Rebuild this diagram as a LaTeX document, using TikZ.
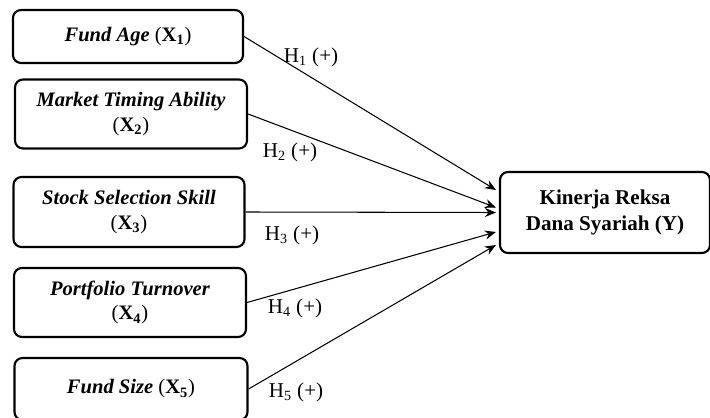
\documentclass[tikz,border=0pt]{standalone}
\usepackage{fontspec}
\setmainfont{Liberation Serif}
\usetikzlibrary{arrows.meta}

\begin{document}
\begin{tikzpicture}[x=0.2mm,y=-0.2mm,
    varbox/.style={draw, very thick, rounded corners=1.6mm, align=center,
                   font=\fontsize{11.7}{14}\selectfont, inner sep=0pt},
    hyp/.style={font=\fontsize{12}{14}\selectfont, inner sep=0pt},
    link/.style={semithick, -{Stealth[length=2.2mm,width=1.8mm]}}]
     \useasboundingbox (0,0) rectangle (710,418);
     % independent variables, left column
     \node[varbox, minimum width=46mm, minimum height=10.6mm] (age) at (128,36.5)
          {\textbf{\textit{Fund Age}} (\textbf{X\textsubscript{1}})};
     \node[varbox, minimum width=46.4mm, minimum height=13.8mm] (timing) at (131,114)
          {\textbf{\textit{Market Timing Ability}}\\(\textbf{X\textsubscript{2}})};
     \node[varbox, minimum width=46.2mm, minimum height=14mm] (skill) at (129,212)
          {\textbf{\textit{Stock Selection Skill}}\\(\textbf{X\textsubscript{3}})};
     \node[varbox, minimum width=46.4mm, minimum height=13.8mm] (turnover) at (130,302.5)
          {\textbf{\textit{Portfolio Turnover}}\\(\textbf{X\textsubscript{4}})};
     \node[varbox, minimum width=46.6mm, minimum height=12.4mm] (size) at (131,389)
          {\textbf{\textit{Fund Size}} (\textbf{X\textsubscript{5}})};
     % dependent variable
     \node[varbox, minimum width=42mm, minimum height=16.2mm,
           font=\fontsize{12}{14.5}\selectfont\bfseries] (kinerja) at (605,212.5)
          {Kinerja Reksa\\Dana Syariah (Y)};
     % hypotheses, all arrows end just left of the Y box
     \draw[link] (age.east) -- ([xshift=-0.6mm,yshift=4.5mm]kinerja.west);
     \draw[link] (timing.east) -- ([xshift=-0.6mm,yshift=1mm]kinerja.west);
     \draw[link] (skill.east) -- ([xshift=-0.6mm]kinerja.west);
     \draw[link] (turnover.east) -- ([xshift=-0.6mm,yshift=-3.9mm]kinerja.west);
     \draw[link] (size.east) -- ([xshift=-0.6mm,yshift=-6.5mm]kinerja.west);
     \node[hyp] (h1) at (311,57) {H\textsubscript{1} (+)};
     \node[hyp] (h2) at (290,152) {H\textsubscript{2} (+)};
     \node[hyp] (h3) at (292,235) {H\textsubscript{3} (+)};
     \node[hyp] (h4) at (295,308) {H\textsubscript{4} (+)};
     \node[hyp] (h5) at (296,392) {H\textsubscript{5} (+)};
\end{tikzpicture}
\end{document}
